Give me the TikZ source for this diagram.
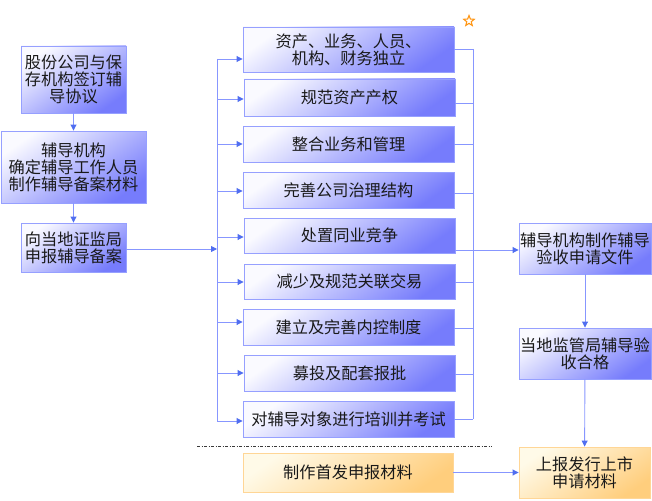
\documentclass[tikz,border=0pt]{standalone}
\usepackage{fontspec}
\setmainfont{Noto Sans CJK SC}
\usetikzlibrary{arrows.meta,shapes.geometric}
\definecolor{btop}{RGB}{250,250,255}
\definecolor{bbot}{RGB}{118,124,252}
\definecolor{bdraw}{RGB}{150,160,255}
\definecolor{otop}{RGB}{255,250,232}
\definecolor{obot}{RGB}{255,206,125}
\definecolor{odraw}{RGB}{255,214,150}
\definecolor{lcol}{RGB}{135,150,255}
\definecolor{acol}{RGB}{80,110,240}
\definecolor{txt}{RGB}{25,25,25}
\definecolor{starcol}{RGB}{255,150,20}
\tikzset{
  bluebox/.style={draw=bdraw, line width=0.9pt, top color=btop, bottom color=bbot, shading angle=35,
     inner sep=0pt, align=center, text=txt, font=\fontsize{16.2}{17}\selectfont},
  orangebox/.style={draw=odraw, line width=0.9pt, top color=otop, bottom color=obot, shading angle=35,
     inner sep=0pt, align=center, text=txt, font=\fontsize{16.2}{17}\selectfont},
  conn/.style={draw=lcol, line width=0.9pt},
  arr/.style={conn, -{Triangle[length=6pt,width=6pt,fill=acol,color=acol]}},
}
\begin{document}
\begin{tikzpicture}[x=1pt,y=-1pt]
\useasboundingbox (0,0) rectangle (652,500);
% left column
\node[bluebox, minimum width=105pt, minimum height=67pt] (l1) at (73.5,79.5) {股份公司与保\\存机构签订辅\\导协议};
\node[bluebox, minimum width=145pt, minimum height=72pt] (l2) at (73.5,167) {辅导机构\\确定辅导工作人员\\制作辅导备案材料};
\node[bluebox, minimum width=105pt, minimum height=49pt] (l3) at (73.5,247.5) {向当地证监局\\申报辅导备案};
% middle column
\node[bluebox, minimum width=211pt, minimum height=45pt] (m1) at (348.5,49.5) {资产、业务、人员、\\机构、财务独立};
\node[bluebox, minimum width=211pt, minimum height=37pt] (m2) at (349.5,97.5) {规范资产产权};
\node[bluebox, minimum width=211pt, minimum height=36pt] (m3) at (348.5,144) {整合业务和管理};
\node[bluebox, minimum width=211pt, minimum height=36pt] (m4) at (348.5,190) {完善公司治理结构};
\node[bluebox, minimum width=211pt, minimum height=35pt] (m5) at (349.5,235.5) {处置同业竞争};
\node[bluebox, minimum width=211pt, minimum height=35pt] (m6) at (349.5,281.5) {减少及规范关联交易};
\node[bluebox, minimum width=211pt, minimum height=36pt] (m7) at (348.5,327) {建立及完善内控制度};
\node[bluebox, minimum width=211pt, minimum height=36pt] (m8) at (349.5,373) {募投及配套报批};
\node[bluebox, minimum width=211pt, minimum height=36pt] (m9) at (348.5,419) {对辅导对象进行培训并考试};
\node[orangebox, minimum width=210pt, minimum height=39pt] (b1) at (348,472.5) {制作首发申报材料};
% right column
\node[bluebox, minimum width=132pt, minimum height=51pt] (r1) at (585,248.5) {辅导机构制作辅导\\验收申请文件};
\node[bluebox, minimum width=132pt, minimum height=51pt] (r2) at (585,353.5) {当地监管局辅导验\\收合格};
\node[orangebox, minimum width=131pt, minimum height=51pt] (r3) at (584.5,472.5) {上报发行上市\\申请材料};
% star
\node[star, star points=5, star point ratio=2.3, draw=starcol, line width=1.1pt, fill=white,
      minimum size=11pt, inner sep=0pt] (star) at (469,21) {};
% left chain
\draw[arr] (l1) -- (l2);
\draw[arr] (l2) -- (l3);
\coordinate (lbtop) at (217,59);
\coordinate (lbbot) at (217,421);
\draw[conn] (lbtop) -- (lbbot);
\draw[arr] (l3.east |- 0,249) -- (217,249);
\foreach \m/\y in {m1/59,m2/99,m3/144,m4/191,m5/237,m6/282,m7/322,m8/373,m9/421}{
  \draw[arr] (217,\y) -- (\m.west |- 0,\y);
}
% right bus
\coordinate (rbtop) at (473,49);
\coordinate (rbbot) at (473,419);
\draw[conn] (rbtop) -- (rbbot);
\foreach \m/\y in {m1/49,m2/103,m3/144,m4/193,m6/282,m7/328,m8/374,m9/419}{
  \draw[conn] (\m.east |- 0,\y) -- (473,\y);
}
\draw[arr] (m5.east |- 0,250) -- (r1.west |- 0,250);
\draw[arr] (r1) -- (r2);
\draw[arr] (r2) -- (r3);
\draw[arr] (b1) -- (r3);
% dashed separator
\draw[gray!45!black, line width=0.8pt, dash pattern=on 3pt off 1.5pt on 1pt off 1.5pt] (197,446) -- (492,446);
\end{tikzpicture}
\end{document}
